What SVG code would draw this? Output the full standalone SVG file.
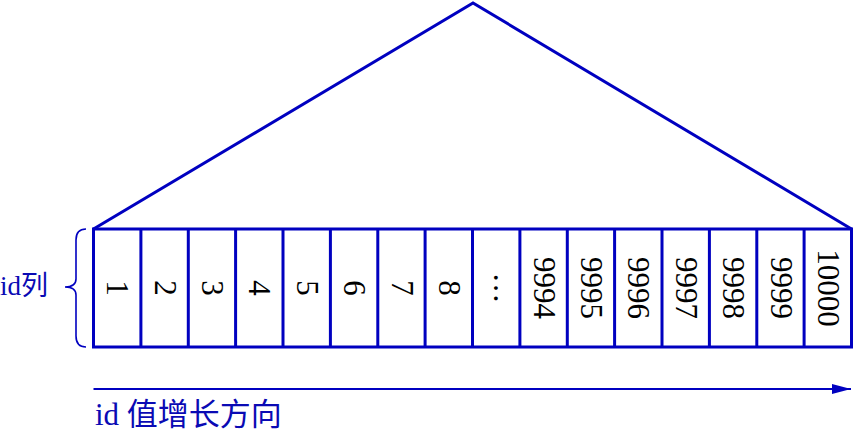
<svg xmlns="http://www.w3.org/2000/svg" width="854" height="434" viewBox="0 0 854 434">
<style>
.ln{fill:none;stroke:#0000C0;stroke-width:3;stroke-linejoin:miter}
.num{font-family:'Liberation Serif','Times New Roman','DejaVu Serif',serif;font-size:31px;fill:#000;text-anchor:middle}
.lbl{font-family:'Liberation Serif','Times New Roman','Noto Sans CJK SC',serif;fill:#0A0AB4}
</style>
<defs>
<marker id="ah" markerWidth="20" markerHeight="12" refX="19" refY="5" orient="auto" markerUnits="userSpaceOnUse">
<path d="M0,0 L19,5 L0,10 Z" fill="#0000C0"/>
</marker>
</defs>
<g id="tree">
<path class="ln" d="M93.5,229 L473,3 L851.5,229"/>
</g>
<g id="column">
<rect class="ln" x="93.5" y="229" width="758" height="118"/>
<path class="ln" d="M140.9,229V347M188.3,229V347M235.6,229V347M283,229V347M330.4,229V347M377.8,229V347M425.1,229V347M472.5,229V347M519.9,229V347M567.3,229V347M614.6,229V347M662,229V347M709.4,229V347M756.8,229V347M804.1,229V347"/>
</g>
<g id="cells">
<text class="num" transform="translate(117.2,288) rotate(90)" dy="10">1</text>
<text class="num" transform="translate(164.6,288) rotate(90)" dy="10">2</text>
<text class="num" transform="translate(212,288) rotate(90)" dy="10">3</text>
<text class="num" transform="translate(259.3,288) rotate(90)" dy="10">4</text>
<text class="num" transform="translate(306.7,288) rotate(90)" dy="10">5</text>
<text class="num" transform="translate(354.1,288) rotate(90)" dy="10">6</text>
<text class="num" transform="translate(401.5,288) rotate(90)" dy="10">7</text>
<text class="num" transform="translate(448.8,288) rotate(90)" dy="10">8</text>
<text class="num" transform="translate(496.2,288) rotate(90)" dy="2">…</text>
<text class="num" transform="translate(543.6,288) rotate(90)" dy="10">9994</text>
<text class="num" transform="translate(591,288) rotate(90)" dy="10">9995</text>
<text class="num" transform="translate(638.3,288) rotate(90)" dy="10">9996</text>
<text class="num" transform="translate(685.7,288) rotate(90)" dy="10">9997</text>
<text class="num" transform="translate(733.1,288) rotate(90)" dy="10">9998</text>
<text class="num" transform="translate(780.5,288) rotate(90)" dy="10">9999</text>
<text class="num" transform="translate(827.8,288) rotate(90)" dy="10">10000</text>
</g>
<g id="id-label">
<path d="M86,229 Q76,229 76,240 L76,279 Q76,287 65,287 Q76,287 76,295 L76,336 Q76,347 86,347" fill="none" stroke="#0000C0" stroke-width="1.6"/>
<text class="lbl" x="0" y="295" font-size="27">id列</text>
</g>
<g id="connectors">
<line x1="93.5" y1="389" x2="851" y2="389" stroke="#0000C0" stroke-width="2" marker-end="url(#ah)"/>
</g>
<g id="direction-label">
<text class="lbl" x="95" y="425" font-size="31">id 值增长方向</text>
</g>
</svg>
